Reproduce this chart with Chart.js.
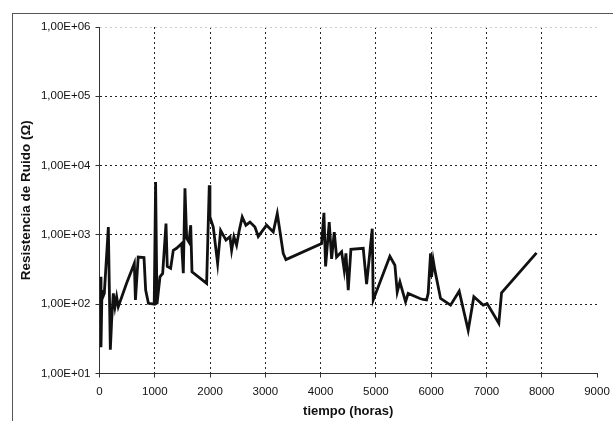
<!DOCTYPE html>
<html>
<head>
<meta charset="utf-8">
<script src="https://cdn.jsdelivr.net/npm/chart.js@4/dist/chart.umd.min.js"></script>
<style>
  body { margin: 0; background: #fff; }
  #wrap { position: relative; width: 613px; height: 421px; overflow: hidden; }
  #frame { position: absolute; left: 12px; top: 13px; width: 640px; height: 440px;
           border-left: 1px solid #555; border-top: 1px solid #555; }
  canvas { position: absolute; left: 0; top: 0; }
</style>
</head>
<body>
<div id="wrap">
  <div id="frame"></div>
  <canvas id="myChart" width="613" height="421"></canvas>
</div>
<script>
// tiempo (horas)
const horas = [22, 27, 45, 63, 87, 160, 196, 220, 250, 280, 310, 340, 490, 630, 650, 700, 805, 835, 885,
  990, 1015, 1040, 1094, 1143, 1203, 1226, 1287, 1335, 1395, 1486, 1516, 1546, 1577, 1618, 1650, 1673,
  1938, 1986, 1998, 2058, 2137, 2191, 2288, 2360, 2390, 2432, 2480, 2528, 2582, 2649, 2722, 2812, 2872,
  3023, 3143, 3216, 3324, 3373, 4018, 4060, 4090, 4156, 4199, 4247, 4289, 4380, 4427, 4458, 4500, 4548,
  4771, 4832, 4879, 4934, 4952, 5253, 5344, 5386, 5434, 5537, 5584, 5796, 5855, 5916, 5946, 5989, 6007,
  6037, 6067, 6170, 6351, 6507, 6670, 6772, 6941, 7013, 7224, 7273, 7906];
// Resistencia de ruido (ohm)
const resistencia = [248, 24, 160, 128, 143, 1300, 22, 59, 143, 92, 128, 92, 200, 387, 115, 480, 470, 160, 103,
  100, 5800, 100, 248, 278, 1460, 350, 330, 600, 640, 750, 280, 4700, 890, 790, 1380, 293,
  200, 5200, 1820, 1300, 387, 1160, 840, 940, 600, 940, 710, 1160, 1820, 1380, 1530, 1300, 950,
  1380, 1100, 2030, 540, 440, 750, 2080, 350, 1530, 450, 1100, 480, 570, 310, 540, 160, 620,
  640, 195, 450, 1230, 115, 490, 365, 150, 210, 108, 143, 121, 117, 115, 143, 540, 248,
  430, 310, 121, 97, 154, 42, 128, 97, 102, 53, 146, 550];

const yTicks = [1e1, 1e2, 1e3, 1e4, 1e5, 1e6];

const points = horas.map((h, i) => ({ x: h, y: resistencia[i] }));

function formatE(v) {
  const exp = Math.round(Math.log10(v));
  return '1,00E+' + String(exp).padStart(2, '0');
}

var ctx = document.getElementById('myChart');

var chart = new Chart(ctx, {
  type: 'line',
  data: {
    datasets: [{
      data: points,
      borderColor: '#111',
      borderWidth: 2.8,
      pointRadius: 0,
      tension: 0,
      fill: false
    }]
  },
  options: {
    responsive: false,
    animation: false,
    layout: { padding: { left: 12, top: 27, right: 16, bottom: 0 } },
    plugins: { legend: { display: false }, tooltip: { enabled: false } },
    scales: {
      x: {
        type: 'linear',
        min: 0,
        max: 9000,
        ticks: { stepSize: 1000, color: '#111', padding: 7, maxRotation: 0,
                 callback: (v) => String(v),
                 font: { family: 'Liberation Sans, Arial', size: 11.5 } },
        grid: {
          color: (c) => (c.tick && c.tick.value === 9000) ? 'rgba(0,0,0,0)' : '#222',
          lineWidth: 1,
          tickLength: 4,
          tickColor: '#333',
          tickBorderDash: []
        },
        border: { display: true, color: '#333', width: 1, dash: [2, 3] },
        title: { display: true, text: 'tiempo (horas)', color: '#111', padding: { top: 3, bottom: 2 },
                 font: { family: 'Liberation Sans, Arial', size: 13, weight: 'bold' } },
        afterFit: (s) => { s.height = 47.5; s.paddingLeft = 0; s.paddingRight = 0; }
      },
      y: {
        type: 'logarithmic',
        min: 10,
        max: 1e6,
        afterBuildTicks: (s) => { s.ticks = yTicks.map(v => ({ value: v })); },
        ticks: { callback: (v) => formatE(v), color: '#111', padding: 5,
                 font: { family: 'Liberation Sans, Arial', size: 11.5 } },
        grid: {
          color: (c) => (c.tick && c.tick.value === 1e6) ? '#ccc' : '#222',
          lineWidth: 1,
          tickLength: 4,
          tickColor: '#333',
          tickBorderDash: []
        },
        border: { display: true, color: '#333', width: 1, dash: [2, 3] },
        title: { display: true, text: 'Resistencia de Ruido (Ω)', color: '#111', padding: { top: 6, bottom: 0 },
                 font: { family: 'Liberation Sans, Arial', size: 13.5, weight: 'bold' } },
        afterFit: (s) => { s.width = 87.5; s.paddingTop = 0; s.paddingBottom = 0; }
      }
    }
  }
});
</script>
</body>
</html>
